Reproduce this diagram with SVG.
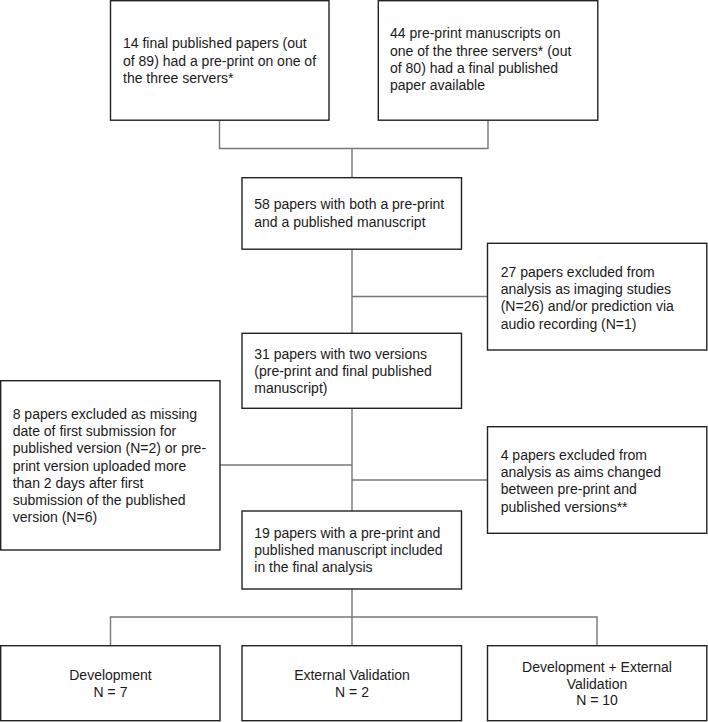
<svg xmlns="http://www.w3.org/2000/svg" width="708" height="722" viewBox="0 0 708 722">
<style>
.box{fill:#fff;stroke:#222;stroke-width:1.4}
.t{font-family:"Liberation Sans",Arial,sans-serif;font-size:14px;fill:#1a1a1a}
.c{text-anchor:middle}
.con{fill:none;stroke:#777;stroke-width:1.4}
</style>
<rect width="708" height="722" fill="#fff"/>
<g id="connectors">
<path class="con" d="M219.5,120.5V148.5H488V120.5M352,148.5V177.5"/>
<path class="con" d="M352,249.5V333.5M352,296.5H487.5"/>
<path class="con" d="M352,408.5V511M220,465H352M352,480H487.5"/>
<path class="con" d="M352,589V617H110.5V646M352,617H597V646M352,617V646"/>
</g>
<g id="n1">
<rect class="box" x="110.5" y="0.7" width="218.5" height="119.5"/>
<text class="t" x="123"><tspan x="123" y="48.3">14 final published papers (out</tspan><tspan x="123" y="65.5">of 89) had a pre-print on one of</tspan><tspan x="123" y="82.7">the three servers*</tspan></text>
</g>
<g id="n2">
<rect class="box" x="378.3" y="0.7" width="219.5" height="119.5"/>
<text class="t"><tspan x="390" y="38.3">44 pre-print manuscripts on</tspan><tspan x="390" y="55.5">one of the three servers* (out</tspan><tspan x="390" y="72.7">of 80) had a final published</tspan><tspan x="390" y="90">paper available</tspan></text>
</g>
<g id="n3">
<rect class="box" x="242" y="177.7" width="219.5" height="71.5"/>
<text class="t"><tspan x="254.3" y="209.3">58 papers with both a pre-print</tspan><tspan x="254.3" y="226.6">and a published manuscript</tspan></text>
</g>
<g id="n4">
<rect class="box" x="487.5" y="243.3" width="219.3" height="106.7"/>
<text class="t"><tspan x="500.7" y="277">27 papers excluded from</tspan><tspan x="500.7" y="294.2">analysis as imaging studies</tspan><tspan x="500.7" y="311.4">(N=26) and/or prediction via</tspan><tspan x="500.7" y="328.6">audio recording (N=1)</tspan></text>
</g>
<g id="n5">
<rect class="box" x="242" y="333.3" width="219.5" height="75"/>
<text class="t"><tspan x="254.3" y="359">31 papers with two versions</tspan><tspan x="254.3" y="376.2">(pre-print and final published</tspan><tspan x="254.3" y="393.4">manuscript)</tspan></text>
</g>
<g id="n6">
<rect class="box" x="0.7" y="380.7" width="219.3" height="169.3"/>
<text class="t"><tspan x="12.7" y="419">8 papers excluded as missing</tspan><tspan x="12.7" y="436.2">date of first submission for</tspan><tspan x="12.7" y="453.4">published version (N=2) or pre-</tspan><tspan x="12.7" y="470.6">print version uploaded more</tspan><tspan x="12.7" y="487.8">than 2 days after first</tspan><tspan x="12.7" y="505">submission of the published</tspan><tspan x="12.7" y="522.2">version (N=6)</tspan></text>
</g>
<g id="n7">
<rect class="box" x="487.5" y="426.7" width="219.3" height="106.6"/>
<text class="t"><tspan x="500.7" y="460">4 papers excluded from</tspan><tspan x="500.7" y="477.2">analysis as aims changed</tspan><tspan x="500.7" y="494.4">between pre-print and</tspan><tspan x="500.7" y="511.6">published versions**</tspan></text>
</g>
<g id="n8">
<rect class="box" x="242" y="511" width="219.5" height="78"/>
<text class="t"><tspan x="254.3" y="537.7">19 papers with a pre-print and</tspan><tspan x="254.3" y="555">published manuscript included</tspan><tspan x="254.3" y="572.2">in the final analysis</tspan></text>
</g>
<g id="n9">
<rect class="box" x="0.7" y="645.7" width="219.3" height="75"/>
<text class="t c"><tspan x="110.5" y="680">Development</tspan><tspan x="110.5" y="697">N = 7</tspan></text>
</g>
<g id="n10">
<rect class="box" x="242" y="645.7" width="219.5" height="75"/>
<text class="t c"><tspan x="352" y="680">External Validation</tspan><tspan x="352" y="697">N = 2</tspan></text>
</g>
<g id="n11">
<rect class="box" x="487.5" y="645.7" width="219.3" height="75"/>
<text class="t c"><tspan x="597" y="671.7">Development + External</tspan><tspan x="597" y="688.5">Validation</tspan><tspan x="597" y="705.2">N = 10</tspan></text>
</g>
</svg>
